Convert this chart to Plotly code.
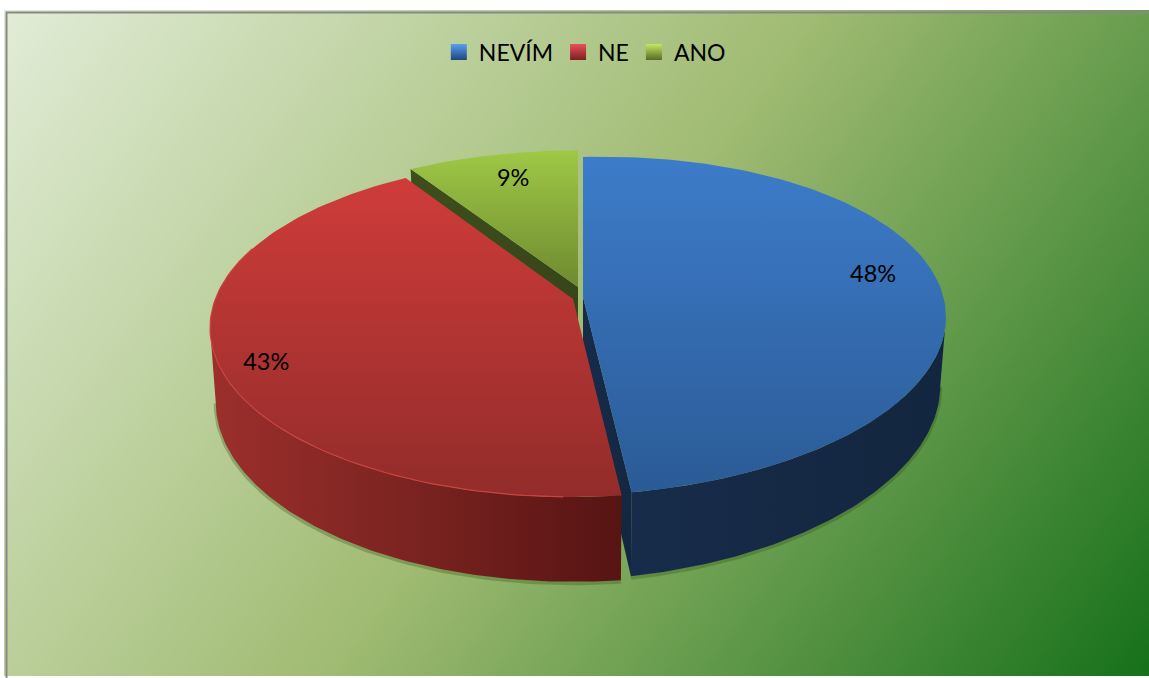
import numpy as np
import plotly.graph_objects as go

# ---- data ----
CATEGORIES = ["NEVÍM", "NE", "ANO"]
VALUES = [48.2, 42.8, 9.0]

# ---- styles ----
W, H = 1149, 678
FONT = "Lato, 'Open Sans', sans-serif"
TOP_GRAD = [["#3d7cca", "#2b5b96"], ["#cf3c3a", "#922c2a"], ["#9fc846", "#6e8a2f"]]
SIDE_GRAD = [["#172c4a", "#13263f"], ["#9c2f2c", "#7a2320", "#561413"], ["#3f4e1b", "#33421a"]]
RIM = [None, "#c9443f", None]
LEG_TOP = ["#5a9ff0", "#e8525a", "#c6e860"]
LEG_BOT = ["#20467c", "#7c2020", "#566b28"]
APEX = [(583, 297), (573, 299), (578, 287)]      # exploded apex of each slice
LABEL_SHIFT = [(0.84, -5.8), (0.885, -5.4), (0.78, 1.0)]  # radius fraction, angle shift
SHEAR_TOP = [0.025, 0.0, 0.0]
SHEAR_BOT = [0.04, 0.0, 0.0]
TOP_B = [164.0, 164.0, 160.0]

# perspective ellipse of the upper and lower faces
C = -0.1716
TOP_A = 357.6
BOT = dict(a=352.0, b=174.6, dy=72.0)
EXTREME = np.degrees(np.arccos(C))               # angle of the widest point of the ellipse


def project(theta_deg, apex, a, b, dy=0.0, r=1.0, shear=0.0):
    t = np.radians(theta_deg)
    u, v = r * np.sin(t), -r * np.cos(t)
    den = 1 + C * v
    dx = a * u / den
    return apex[0] + dx, apex[1] + dy + b * v / den - shear * dx


def scale(colors):
    n = len(colors) - 1
    return [[i / n, c] for i, c in enumerate(colors)]


def poly(x, y, colors, orientation, name):
    x, y = np.asarray(x, float), np.asarray(y, float)
    ref = y if orientation == "vertical" else x
    return go.Scatter(
        x=np.r_[x, x[0]], y=np.r_[y, y[0]], mode="lines", line=dict(width=0),
        fill="toself", hoverinfo="skip", showlegend=False, name=name,
        fillgradient=dict(type=orientation, colorscale=scale(colors),
                          start=float(ref.min()), stop=float(ref.max())),
    )


fig = go.Figure()

# background gradient
gx = np.arange(7, W + 1, 6.0)
gy = np.arange(13, H + 1, 6.0)
xx, yy = np.meshgrid(gx, gy)
fig.add_trace(go.Heatmap(
    x=gx, y=gy, z=(678 * xx + 500 * yy) / (678 * W + 500 * H),
    colorscale=[[0, "#e2edd8"], [0.5, "#a0bb72"], [1, "#16701a"]], zmin=0, zmax=1,
    zsmooth="best", showscale=False, hoverinfo="skip",
))

total = sum(VALUES)
edges = np.cumsum([0] + VALUES) / total * 360
spans = [(edges[i], edges[i + 1]) for i in range(len(VALUES))]
FRONT = [(EXTREME, edges[1]), (edges[1], 360 - EXTREME), None]   # visible outer wall
DRAW_ORDER = [2, 0, 1]

# soft shadow under the outer walls
for i in (0, 1):
    th = np.linspace(FRONT[i][0], FRONT[i][1], 100)
    sx, sy = project(th, APEX[i], BOT["a"], BOT["b"], BOT["dy"], shear=SHEAR_BOT[i])
    fig.add_trace(go.Scatter(x=sx, y=sy + 1.5, mode="lines",
                             line=dict(color="rgba(45,75,20,0.30)", width=4),
                             hoverinfo="skip", showlegend=False))

for i in DRAW_ORDER:
    s, e = spans[i]
    apex = APEX[i]
    th = np.linspace(s, e, 120)
    tx, ty = project(th, apex, TOP_A, TOP_B[i], shear=SHEAR_TOP[i])
    bx, by = project(th, apex, BOT["a"], BOT["b"], BOT["dy"], shear=SHEAR_BOT[i])
    ax_t, ay_t = apex[0], float(apex[1])
    ax_b, ay_b = apex[0], float(apex[1] + BOT["dy"])
    if i == 2:   # dark cut face under the small slice
        fig.add_trace(poly([ax_t, tx[0], bx[0], ax_b], [ay_t, ty[0], by[0], ay_b],
                           SIDE_GRAD[i], "vertical", "cut"))
    else:
        fr = np.linspace(FRONT[i][0], FRONT[i][1], 100)
        fx, fy = project(fr, apex, TOP_A, TOP_B[i], shear=SHEAR_TOP[i])
        gx2, gy2 = project(fr, apex, BOT["a"], BOT["b"], BOT["dy"], shear=SHEAR_BOT[i])
        fig.add_trace(poly(np.r_[fx, gx2[::-1]], np.r_[fy, gy2[::-1]],
                           SIDE_GRAD[i], "horizontal", "side"))
    if i == 0:   # cut face beside the red slice
        fig.add_trace(poly([ax_t, tx[-1], bx[-1], ax_b], [ay_t, ty[-1], by[-1], ay_b],
                           SIDE_GRAD[i], "vertical", "cut"))
    fig.add_trace(poly(np.r_[ax_t, tx], np.r_[ay_t, ty], TOP_GRAD[i], "vertical", "top"))
    if RIM[i]:
        keep = (th > 180) & (th < 290)
        fig.add_trace(go.Scatter(x=tx[keep], y=ty[keep], mode="lines",
                                 line=dict(color=RIM[i], width=1.2),
                                 hoverinfo="skip", showlegend=False))

# percent labels
for i, (s, e) in enumerate(spans):
    rf, shift = LABEL_SHIFT[i]
    lx, ly = project(np.array([(s + e) / 2 + shift]), APEX[i], TOP_A, TOP_B[i], r=rf)
    fig.add_trace(go.Scatter(
        x=lx, y=ly, mode="text", text=[f"{VALUES[i] / total * 100:.0f}%"],
        textposition="middle center", textfont=dict(family=FONT, size=23.5, color="black"),
        hoverinfo="skip", showlegend=False,
    ))

# legend entries
for i, cat in enumerate(CATEGORIES):
    fig.add_trace(go.Scatter(
        x=[None], y=[None], mode="markers", name=cat,
        marker=dict(symbol="square", size=16, color=LEG_TOP[i],
                    gradient=dict(type="vertical", color=LEG_BOT[i])),
    ))

fig.add_shape(type="rect", x0=6.5, y0=12.5, x1=W + 20, y1=H + 20,
              line=dict(color="#888888", width=2), layer="above")

fig.update_layout(
    width=W, height=H, margin=dict(l=0, r=0, t=0, b=0),
    paper_bgcolor="white", plot_bgcolor="white",
    xaxis=dict(range=[0, W], visible=False, fixedrange=True),
    yaxis=dict(range=[H, 0], visible=False, fixedrange=True),
    legend=dict(orientation="h", x=0.509, xanchor="center", y=1 - 52 / H, yanchor="middle",
                font=dict(family=FONT, size=23, color="black"), bgcolor="rgba(0,0,0,0)",
                traceorder="normal", itemwidth=30),
    font=dict(family=FONT),
)

fig.write_html("out.html", config=dict(displayModeBar=False),
               post_script="document.body.style.margin='0';document.body.style.overflow='hidden';")
